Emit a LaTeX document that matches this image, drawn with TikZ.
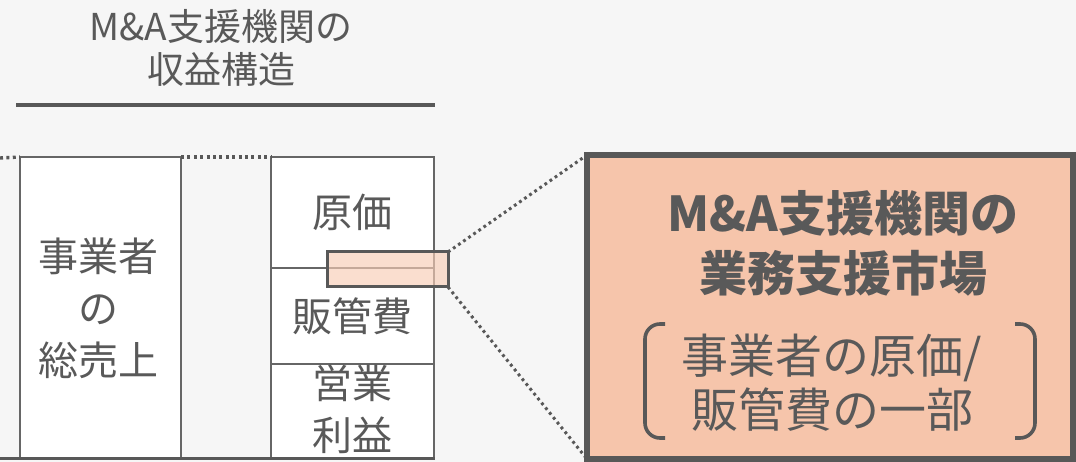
\documentclass[tikz,border=0pt]{standalone}
\usepackage{fontspec}
\setmainfont{Noto Sans CJK JP}
\newfontfamily\jp{Noto Sans CJK JP}
\definecolor{bgc}{HTML}{F6F6F6}
\definecolor{txt}{HTML}{595959}
\definecolor{lin}{HTML}{666666}
\definecolor{dark}{HTML}{585858}
\definecolor{salmon}{HTML}{F6C5AB}
\definecolor{pale}{HTML}{F8CDB6}
\tikzset{
  x=1pt, y=-1pt,
  colbox/.style={draw=lin, line width=2pt, fill=white, anchor=north west, inner sep=0, outer sep=0},
  txtnode/.style={text=txt, inner sep=0, align=center, font=\jp\fontsize{40}{52}\selectfont},
  dotline/.style={draw=dark, line width=3.4pt, dash pattern=on 3pt off 3.4pt},
  dotthin/.style={draw=dark, line width=3pt, dash pattern=on 2.8pt off 3.4pt},
}
\begin{document}
\begin{tikzpicture}
\useasboundingbox (0,0) rectangle (1076,462);
\fill[bgc] (0,0) rectangle (1076,462);
% title
\node[txtnode, font=\jp\fontsize{37}{43}\selectfont] (title) at (221,48) {M\&A支援機関の\\収益構造};
\coordinate (ulA) at (16,105);
\coordinate (ulB) at (435,105);
\draw[dark, line width=3.2pt] (ulA) -- (ulB);
% left column
\node[colbox, minimum width=161, minimum height=301] (sales) at (20,157) {};
\node[txtnode] (salest) at (98,308) {事業者\\の\\総売上};
% middle column
\node[colbox, minimum width=163, minimum height=111] (cost) at (271,157) {};
\node[colbox, minimum width=163, minimum height=96] (sga) at (271,268) {};
\node[colbox, minimum width=163, minimum height=94] (profit) at (271,364) {};
\node[txtnode] (costt) at (352,212) {原価};
\node[txtnode] (sgat) at (352,316) {販管費};
\node[txtnode] (profitt) at (352,409) {営業\\利益};
% dotted top line
\coordinate (dl0) at (0,158);
\draw[dotline] (dl0) -- (sales.north west);
\draw[dotline] (sales.north east) -- (cost.north west);
% bottom line
\coordinate (bl0) at (0,458.5);
\coordinate (bl1) at (435,458.5);
\draw[dark, line width=3pt] (bl0) -- (bl1);
% highlight rectangle
\node[draw=dark, line width=3pt, fill=pale, fill opacity=0.65, minimum width=121, minimum height=35, anchor=north west, inner sep=0, outer sep=0] (hl) at (327,252) {};
% big box
\node[draw=dark, line width=6pt, fill=salmon, minimum width=486, minimum height=304, anchor=north west, inner sep=0, outer sep=0] (market) at (587,155) {};
\draw[dotthin] (hl.north east) -- (market.north west);
\draw[dotthin] (hl.south east) -- (market.south west);
% texts in big box
\node[txtnode, font=\jp\bfseries\fontsize{48}{60}\selectfont] (markett) at (843,243) {M\&A支援機関の\\業務支援市場};
\node[txtnode, font=\jp\fontsize{47}{54}\selectfont] (subt) at (832,383) {事業者の原価/\\販管費の一部};
% brackets
\coordinate (lb1) at (665,324);
\coordinate (lb2) at (645,324);
\coordinate (lb3) at (645,438);
\coordinate (lb4) at (665,438);
\draw[dark, line width=3.6pt, rounded corners=15pt] (lb1) -- (lb2) -- (lb3) -- (lb4);
\coordinate (rb1) at (1015,324);
\coordinate (rb2) at (1035,324);
\coordinate (rb3) at (1035,438);
\coordinate (rb4) at (1015,438);
\draw[dark, line width=3.6pt, rounded corners=15pt] (rb1) -- (rb2) -- (rb3) -- (rb4);
\end{tikzpicture}
\end{document}
